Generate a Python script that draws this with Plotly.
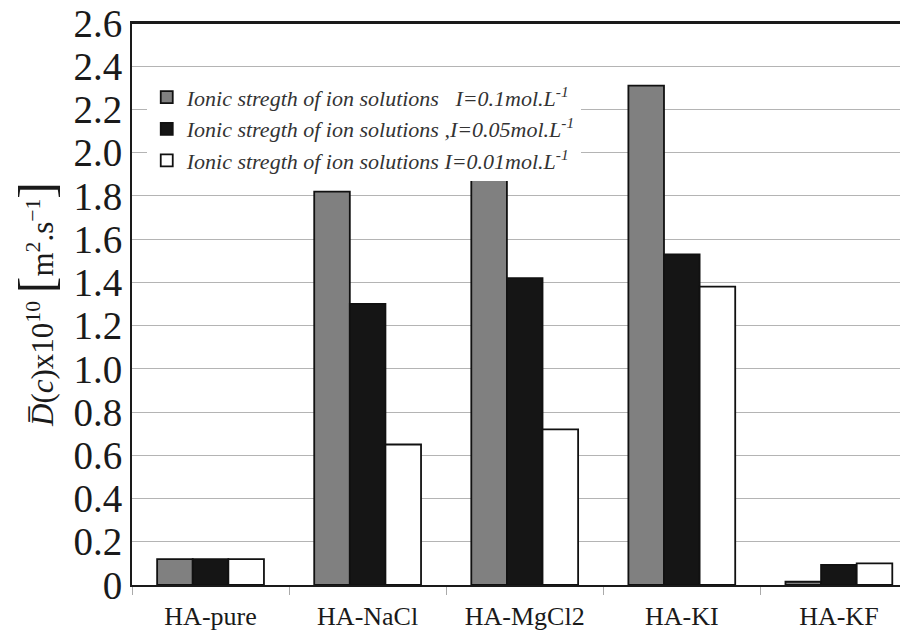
import plotly.graph_objects as go

categories = ["HA-pure", "HA-NaCl", "HA-MgCl2", "HA-KI", "HA-KF"]
series_names = [
    "<i>Ionic stregth of ion solutions   I=0.1mol.L<sup>-1</sup></i>",
    "<i>Ionic stregth of ion solutions ,I=0.05mol.L<sup>-1</sup></i>",
    "<i>Ionic stregth of ion solutions I=0.01mol.L<sup>-1</sup></i>",
]
I_01 = [0.12, 1.82, 1.95, 2.31, 0.015]
I_005 = [0.12, 1.30, 1.42, 1.53, 0.093]
I_001 = [0.12, 0.65, 0.72, 1.38, 0.10]
tick_vals = [0, 0.2, 0.4, 0.6, 0.8, 1.0, 1.2, 1.4, 1.6, 1.8, 2.0, 2.2, 2.4, 2.6]
tick_text = ["0", "0.2", "0.4", "0.6", "0.8", "1.0", "1.2", "1.4", "1.6", "1.8",
             "2.0", "2.2", "2.4", "2.6"]

colors = ["#808080", "#151515", "#ffffff"]
fig = go.Figure()
for name, vals, col in zip(series_names, [I_01, I_005, I_001], colors):
    fig.add_trace(go.Bar(
        x=categories, y=vals, name=name,
        marker=dict(color=col, line=dict(color="#111111", width=1.8)),
    ))

serif = "Liberation Serif, Times New Roman, serif"
fig.update_layout(
    width=900, height=623,
    margin=dict(l=124, r=0, t=15, b=46, autoexpand=False),
    paper_bgcolor="white", plot_bgcolor="white",
    barmode="group", bargap=0.32, bargroupgap=0,
    font=dict(family=serif, color="#1a1a1a"),
    showlegend=True,
    legend=dict(
        x=0.019, y=0.905, xanchor="left", yanchor="top",
        bgcolor="white", borderwidth=0,
        font=dict(family=serif, size=22, color="#333333"),
        itemwidth=30, tracegroupgap=0,
        traceorder="normal",
    ),
    shapes=[dict(type="line", xref="paper", yref="paper", x0=0, x1=1, y0=1, y1=1,
                 line=dict(color="#1a1a1a", width=2), layer="above")],
)
fig.update_xaxes(
    type="category", range=[-0.5, 4.44], automargin=False,
    showline=True, linecolor="#1a1a1a", linewidth=2, mirror=True,
    ticks="outside", tickson="boundaries", ticklen=8, tickcolor="#aaaaaa",
    tickwidth=1,
    tickfont=dict(family=serif, size=26, color="#1a1a1a"),
    ticklabelstandoff=7, ticklabeloverflow="allow",
    showgrid=False,
)
fig.update_yaxes(
    range=[0, 2.6], tickvals=tick_vals, ticktext=tick_text, automargin=False,
    showline=True, linecolor="#1a1a1a", linewidth=2,
    ticks="", tickfont=dict(family=serif, size=39, color="#1a1a1a"),
    ticklabeloverflow="allow",
    showgrid=True, gridcolor="#b4b4b4", gridwidth=1,
    zeroline=False,
    title=dict(
        text="<i>D\u0305</i>(<i>c</i>)x10<sup>10</sup> "
             "<span style='font-size:50px'>[</span>m<sup>2</sup>.s<sup>\u22121</sup>"
             "<span style='font-size:50px'>]</span>",
        font=dict(family=serif, size=31, color="#1a1a1a"),
        standoff=12,
    ),
)
fig.write_html("out.html")
